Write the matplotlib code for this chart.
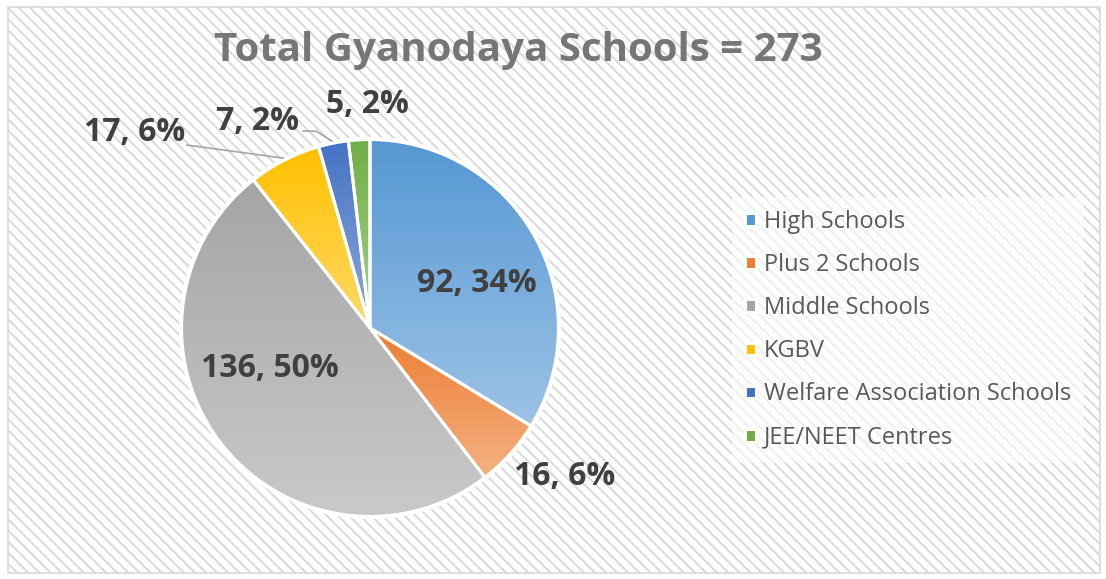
import numpy as np
import matplotlib.pyplot as plt
from matplotlib.colors import LinearSegmentedColormap
from matplotlib.patches import Rectangle

# data
categories = ["High Schools", "Plus 2 Schools", "Middle Schools", "KGBV",
              "Welfare Association Schools", "JEE/NEET Centres"]
counts = [92, 16, 136, 17, 7, 5]
pct_labels = ["34%", "6%", "50%", "6%", "2%", "2%"]

# gradient (top colour, bottom colour) per slice
top_colors = ["#5597D3", "#ED7D31", "#A5A5A5", "#FFC000", "#4472C4", "#70AD47"]
bottom_colors = ["#9DC3E6", "#F4B183", "#C9C9C9", "#FFD966", "#8FAADC", "#A9D18E"]

# label positions in pie units (radius = 1)
label_pos = [(0.566, 0.233), (1.032, -0.788), (-0.529, -0.212),
             (-1.243, 1.032), (-0.593, 1.095), (-0.016, 1.185)]

plt.rcParams['font.family'] = ['Open Sans', 'DejaVu Sans']
plt.rcParams['hatch.linewidth'] = 1.4
plt.rcParams['hatch.color'] = "#E8E8E8"

fig = plt.figure(figsize=(11.06, 5.79), dpi=100)
fig.patch.set_facecolor("white")

bg = Rectangle((0.007, 0.01), 0.988, 0.978, transform=fig.transFigure,
               facecolor="white", edgecolor="#D9D9D9", hatch="\\\\\\",
               linewidth=1.2, zorder=-5)
fig.patches.append(bg)

# pie axes: center (370, 328) px, radius 189 px
ax = fig.add_axes([(370 - 189 * 1.5) / 1106, (579 - 328 - 189 * 1.5) / 579,
                   189 * 3 / 1106, 189 * 3 / 579])
ax.set_zorder(2)
ax.patch.set_visible(False)
ax.axis("off")

wedges, _ = ax.pie(counts, startangle=90, counterclock=False, radius=1,
                   colors=top_colors,
                   wedgeprops=dict(edgecolor="white", linewidth=2.2))

for w, c0, c1 in zip(wedges, top_colors, bottom_colors):
    ext = w.get_path().get_extents()
    cmap = LinearSegmentedColormap.from_list("g", [c1, c0])
    grad = np.linspace(0, 1, 256).reshape(-1, 1)
    im = ax.imshow(grad, cmap=cmap, origin="lower", aspect="auto",
                   extent=[ext.x0, ext.x1, ext.y0, ext.y1], zorder=1.5)
    im.set_clip_path(w)
    w.set_facecolor("none")
    w.set_zorder(2)
ax.set_xlim(-1.5, 1.5)
ax.set_ylim(-1.5, 1.5)
ax.set_aspect("equal")

# outer white ring
ring = plt.Circle((0, 0), 1.0, fill=False, edgecolor="white", linewidth=3, zorder=3)
ax.add_patch(ring)

for (x, y), n, p in zip(label_pos, counts, pct_labels):
    ax.text(x, y, f"{n}, {p}", ha="center", va="center", fontsize=23,
            fontweight="bold", color="#404040", zorder=5)

# leader lines for small slices
ax.plot([-0.968, -0.460], [0.968, 0.899], color="#A6A6A6", lw=1.2, zorder=4)
ax.plot([-0.354, -0.286, -0.201], [1.042, 1.042, 0.989], color="#A6A6A6", lw=1.2, zorder=4)

fig.text(0.469, 0.912, "Total Gyanodaya Schools = 273", ha="center", va="center",
         fontsize=29, fontweight="bold", color="#767676")

leg = fig.legend(wedges, categories, loc="upper left",
                 bbox_to_anchor=(732 / 1106, 1 - 197 / 579),
                 frameon=True, fontsize=17, labelcolor="#595959",
                 handlelength=0.45, handleheight=0.45, handletextpad=0.35,
                 labelspacing=0.81, borderpad=0.55, borderaxespad=0)
leg.get_frame().set_facecolor("white")
leg.get_frame().set_alpha(0.6)
leg.get_frame().set_linewidth(0)
leg.get_frame().set_boxstyle("square", pad=0)
for h, c0 in zip(leg.legend_handles, top_colors):
    h.set_facecolor(c0)
    h.set_edgecolor("white")

fig.savefig("out.png", dpi=100)
